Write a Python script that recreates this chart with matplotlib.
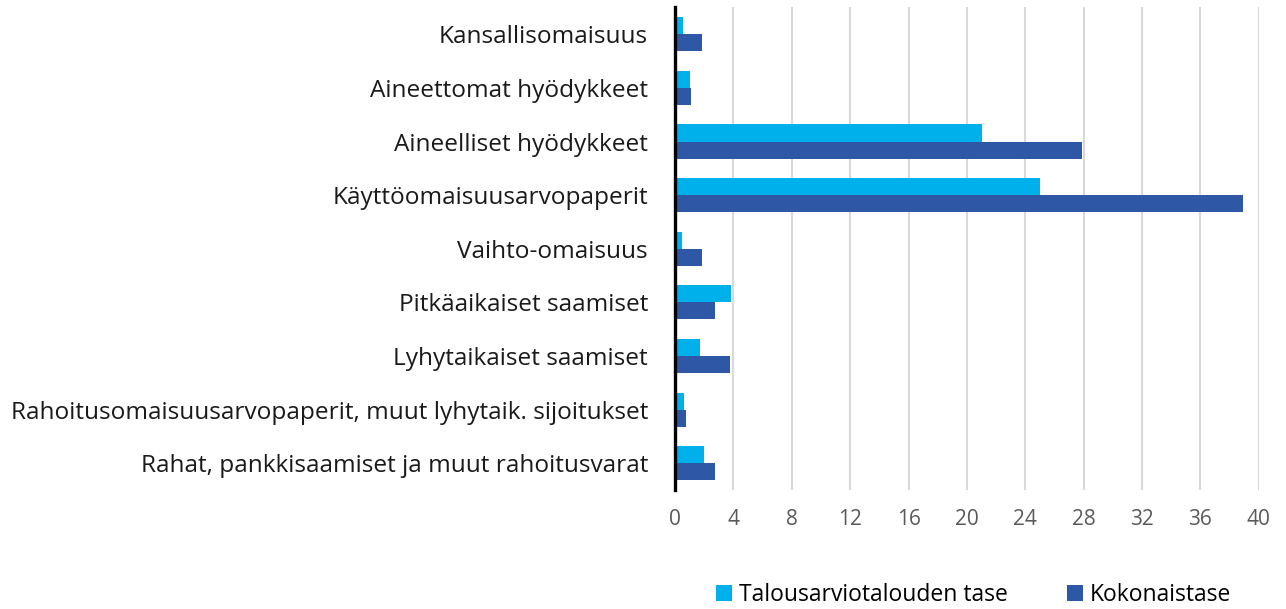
import matplotlib
matplotlib.use("Agg")
import matplotlib.pyplot as plt
import numpy as np

categories = [
    "Kansallisomaisuus",
    "Aineettomat hyödykkeet",
    "Aineelliset hyödykkeet",
    "Käyttöomaisuusarvopaperit",
    "Vaihto-omaisuus",
    "Pitkäaikaiset saamiset",
    "Lyhytaikaiset saamiset",
    "Rahoitusomaisuusarvopaperit, muut lyhytaik. sijoitukset",
    "Rahat, pankkisaamiset ja muut rahoitusvarat",
]
talousarvio = [0.55, 1.03, 21.07, 24.98, 0.48, 3.84, 1.74, 0.6, 2.0]
kokonais = [1.83, 1.08, 27.87, 38.9, 1.83, 2.72, 3.75, 0.73, 2.72]
series_names = ["Talousarviotalouden tase", "Kokonaistase"]
xticks = list(range(0, 41, 4))

plt.rcParams['font.family'] = ['Open Sans', 'DejaVu Sans']

fig = plt.figure(figsize=(12.86, 6.09), dpi=100)
ax = fig.add_axes([0.5249, 0.1954, 0.9788 - 0.5249, 0.9877 - 0.1954])

y = np.arange(len(categories))
h = 0.318
ax.barh(y - h / 2, talousarvio, height=h, color='#00B0EA', label=series_names[0], zorder=3)
ax.barh(y + h / 2, kokonais, height=h, color='#2E58A5', label=series_names[1], zorder=3)

ax.set_ylim(len(categories) - 0.5, -0.5)
ax.set_xlim(0, 40)
ax.set_xticks(xticks)
ax.set_xticklabels([str(t) for t in xticks], fontsize=15, color='#595959')
ax.set_yticks(y)
ax.set_yticklabels(categories, fontsize=17.6, color='#1a1a1a')
ax.tick_params(axis='y', length=0, pad=19.5)
ax.tick_params(axis='x', length=0, pad=14)
ax.xaxis.grid(True, color='#D9D9D9', linewidth=1.5, zorder=0)
for s in ['top', 'right', 'bottom']:
    ax.spines[s].set_visible(False)
ax.spines['left'].set_color('black')
ax.spines['left'].set_linewidth(2.4)
ax.spines['left'].set_zorder(4)

fig.legend(loc='center', bbox_to_anchor=(0.757, 0.023), ncol=2, frameon=False,
           fontsize=16.5, handlelength=0.7, handleheight=0.7, handletextpad=0.3,
           columnspacing=2.6)

fig.savefig("out.png", dpi=100)
